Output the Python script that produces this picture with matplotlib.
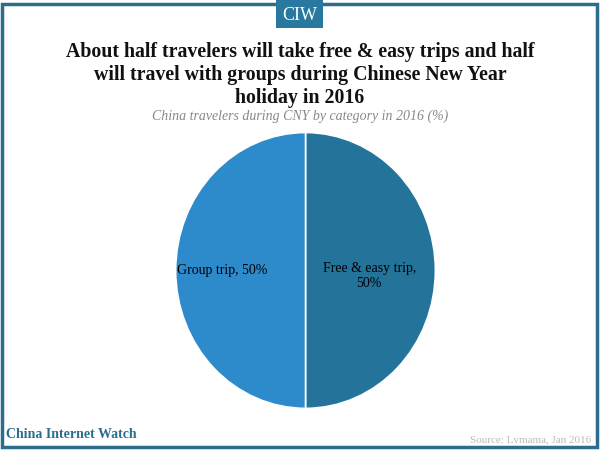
import matplotlib.pyplot as plt
from matplotlib.patches import Rectangle

categories = ['Free & easy trip', 'Group trip']
values = [50, 50]
colors = ['#23739b', '#2e8bcb']

fig = plt.figure(figsize=(6, 4.5), dpi=100)
plt.rcParams['font.family'] = ['Liberation Serif', 'DejaVu Serif']

# frame and logo box
fig.patches.append(Rectangle((0.004, 0.006), 0.991, 0.986, transform=fig.transFigure,
                             fill=False, edgecolor='#2c6c8c', linewidth=2.5))
fig.patches.append(Rectangle((0.46, 0.937), 0.079, 0.063, transform=fig.transFigure,
                             facecolor='#2878a0', edgecolor='none'))
fig.text(0.5, 0.965, 'CIW', ha='center', va='center', color='white', fontsize=13)

fig.text(0.5, 0.833, 'About half travelers will take free & easy trips and half\n'
         'will travel with groups during Chinese New Year\nholiday in 2016',
         ha='center', va='center', fontsize=14.3, fontweight='bold', linespacing=1.18,
         color='#111111')
fig.text(0.5, 0.742, 'China travelers during CNY by category in 2016 (%)',
         ha='center', va='center', fontsize=10, style='italic', color='#888888')

# pie is slightly stretched vertically in the reference
ax = fig.add_axes([0.2917, 0.091, 0.435, 0.616])
wedges, texts = ax.pie(values, colors=colors, startangle=90, counterclock=False,
                       wedgeprops=dict(edgecolor='white', linewidth=1.2))
ax.set_xlim(-1.005, 1.005)
ax.set_ylim(-1.005, 1.005)
ax.set_aspect('auto')

ax.text(0.49, -0.04, 'Free & easy trip,\n50%', ha='center', va='center', fontsize=10)
ax.text(-0.64, 0.0, 'Group trip, 50%', ha='center', va='center', fontsize=10)

fig.text(0.01, 0.035, 'China Internet Watch', ha='left', va='center', fontsize=10,
         fontweight='bold', color='#2c6c8c')
fig.text(0.985, 0.022, 'Source: Lvmama, Jan 2016', ha='right', va='center', fontsize=8,
         color='#bbbbbb')

plt.savefig('out.png', dpi=100)
